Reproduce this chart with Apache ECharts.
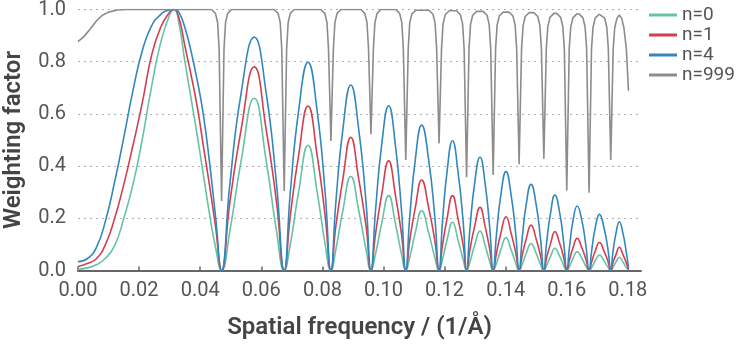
<!DOCTYPE html>
<html>
<head>
<meta charset="utf-8">
<script src="https://cdn.jsdelivr.net/npm/echarts@6/dist/echarts.min.js"></script>
<style>
  html, body { margin: 0; padding: 0; background: #fff; }
  #chart { width: 736px; height: 344px; }
</style>
</head>
<body>
<div id="chart"></div>
<script>
// spatial frequency samples shared by n=0, n=1, n=4 (1/Å)
const freq = [
  0, 0.003, 0.006, 0.009, 0.012, 0.015, 0.018, 0.021, 0.024, 0.027, 0.030, 0.0315,
  0.033, 0.035, 0.037, 0.039, 0.041, 0.043, 0.045, 0.047,
  0.0497, 0.0534, 0.0577, 0.0616, 0.0650, 0.0675,
  0.0695, 0.0722, 0.0753, 0.0783, 0.0809, 0.0828,
  0.0844, 0.0867, 0.0893, 0.0919, 0.0943, 0.0959,
  0.0974, 0.0994, 0.1017, 0.1039, 0.1059, 0.1073,
  0.1086, 0.1104, 0.1125, 0.1148, 0.1168, 0.1182,
  0.1193, 0.1208, 0.1226, 0.1244, 0.1261, 0.1272,
  0.1283, 0.1298, 0.1316, 0.1333, 0.1348, 0.1359,
  0.1370, 0.1384, 0.1401, 0.1418, 0.1433, 0.1444,
  0.1454, 0.1467, 0.1483, 0.1500, 0.1514, 0.1525,
  0.1534, 0.1547, 0.1561, 0.1577, 0.1590, 0.1600,
  0.1609, 0.1620, 0.1634, 0.1650, 0.1663, 0.1673,
  0.1682, 0.1693, 0.1707, 0.1722, 0.1735, 0.1744,
  0.1751, 0.1761, 0.1772, 0.1784, 0.1795, 0.1802
];

const n0 = [
  0.005, 0.01, 0.022, 0.047, 0.095, 0.20, 0.33, 0.50, 0.70, 0.87, 0.98, 1.0,
  0.95, 0.80, 0.66, 0.52, 0.37, 0.22, 0.09, 0,
  0.15, 0.42, 0.66, 0.42, 0.15, 0,
  0.10, 0.30, 0.48, 0.30, 0.10, 0,
  0.08, 0.23, 0.36, 0.23, 0.08, 0,
  0.063, 0.18, 0.287, 0.18, 0.063, 0,
  0.05, 0.144, 0.229, 0.144, 0.05, 0,
  0.041, 0.117, 0.185, 0.117, 0.041, 0,
  0.033, 0.095, 0.151, 0.095, 0.033, 0,
  0.028, 0.079, 0.126, 0.079, 0.028, 0,
  0.023, 0.065, 0.103, 0.065, 0.023, 0,
  0.019, 0.054, 0.085, 0.054, 0.019, 0,
  0.016, 0.045, 0.072, 0.045, 0.016, 0,
  0.013, 0.037, 0.059, 0.037, 0.013, 0,
  0.011, 0.032, 0.051, 0.032, 0.011, 0.002
];

const n1 = [
  0.015, 0.027, 0.045, 0.10, 0.20, 0.33, 0.48, 0.64, 0.82, 0.93, 0.99, 1.0,
  0.97, 0.86, 0.75, 0.63, 0.48, 0.33, 0.17, 0,
  0.26, 0.54, 0.78, 0.54, 0.26, 0,
  0.21, 0.44, 0.63, 0.44, 0.21, 0,
  0.17, 0.35, 0.51, 0.35, 0.17, 0,
  0.14, 0.29, 0.42, 0.29, 0.14, 0,
  0.115, 0.24, 0.347, 0.24, 0.115, 0,
  0.095, 0.198, 0.287, 0.198, 0.095, 0,
  0.08, 0.167, 0.242, 0.167, 0.08, 0,
  0.068, 0.142, 0.206, 0.142, 0.068, 0,
  0.057, 0.12, 0.174, 0.12, 0.057, 0,
  0.049, 0.103, 0.149, 0.103, 0.049, 0,
  0.041, 0.085, 0.123, 0.085, 0.041, 0,
  0.035, 0.074, 0.107, 0.074, 0.035, 0,
  0.029, 0.061, 0.089, 0.061, 0.029, 0.004
];

const n4 = [
  0.034, 0.045, 0.088, 0.19, 0.34, 0.51, 0.69, 0.84, 0.935, 0.98, 0.998, 1.0,
  0.99, 0.93, 0.84, 0.73, 0.60, 0.42, 0.21, 0,
  0.33, 0.68, 0.894, 0.68, 0.33, 0,
  0.30, 0.61, 0.798, 0.61, 0.30, 0,
  0.26, 0.54, 0.711, 0.54, 0.26, 0,
  0.23, 0.48, 0.631, 0.48, 0.23, 0,
  0.206, 0.423, 0.557, 0.423, 0.206, 0,
  0.184, 0.378, 0.497, 0.378, 0.184, 0,
  0.161, 0.33, 0.434, 0.33, 0.161, 0,
  0.14, 0.288, 0.379, 0.288, 0.14, 0,
  0.122, 0.251, 0.33, 0.251, 0.122, 0,
  0.107, 0.22, 0.289, 0.22, 0.107, 0,
  0.091, 0.188, 0.247, 0.188, 0.091, 0,
  0.08, 0.163, 0.215, 0.163, 0.08, 0,
  0.069, 0.142, 0.187, 0.142, 0.069, 0.01
];

// n=999 has its own, denser samples around the narrow dips
const freq999 = [
  0, 0.002, 0.004, 0.006, 0.008, 0.010, 0.013, 0.016,
  0.0437, 0.0450, 0.0457, 0.0462, 0.0470, 0.0478, 0.0483, 0.0490, 0.0503,
  0.0642, 0.0655, 0.0662, 0.0667, 0.0675, 0.0683, 0.0688, 0.0695, 0.0708,
  0.0795, 0.0808, 0.0815, 0.0820, 0.0828, 0.0836, 0.0841, 0.0848, 0.0861,
  0.0926, 0.0939, 0.0946, 0.0951, 0.0959, 0.0967, 0.0972, 0.0979, 0.0992,
  0.1040, 0.1053, 0.1060, 0.1065, 0.1073, 0.1081, 0.1086, 0.1093, 0.1106,
  0.1149, 0.1162, 0.1169, 0.1174, 0.1182, 0.1190, 0.1195, 0.1202, 0.1215,
  0.1239, 0.1252, 0.1259, 0.1264, 0.1272, 0.1280, 0.1285, 0.1292, 0.1305,
  0.1326, 0.1339, 0.1346, 0.1351, 0.1359, 0.1367, 0.1372, 0.1379, 0.1392,
  0.1411, 0.1424, 0.1431, 0.1436, 0.1444, 0.1452, 0.1457, 0.1464, 0.1477,
  0.1492, 0.1505, 0.1512, 0.1517, 0.1525, 0.1533, 0.1538, 0.1545, 0.1558,
  0.1567, 0.1580, 0.1587, 0.1592, 0.1600, 0.1608, 0.1613, 0.1620, 0.1633,
  0.1640, 0.1653, 0.1660, 0.1665, 0.1673, 0.1681, 0.1686, 0.1693, 0.1706,
  0.1711, 0.1724, 0.1731, 0.1736, 0.1744, 0.1752, 0.1757, 0.1764, 0.1772,
  0.1780, 0.1787, 0.1795, 0.1802
];

const n999 = [
  0.877, 0.897, 0.925, 0.956, 0.978, 0.990, 0.998, 1.0,
  1.0, 0.985, 0.95, 0.85, 0.266, 0.85, 0.95, 0.985, 1.0,
  1.0, 0.985, 0.95, 0.85, 0.305, 0.85, 0.95, 0.985, 1.0,
  1.0, 0.985, 0.95, 0.85, 0.496, 0.85, 0.95, 0.985, 1.0,
  1.0, 0.985, 0.95, 0.85, 0.522, 0.85, 0.95, 0.985, 1.0,
  1.0, 0.985, 0.95, 0.85, 0.423, 0.85, 0.95, 0.983, 0.997,
  0.997, 0.982, 0.947, 0.85, 0.487, 0.85, 0.945, 0.98, 0.995,
  0.995, 0.98, 0.945, 0.85, 0.357, 0.85, 0.943, 0.978, 0.993,
  0.993, 0.978, 0.943, 0.85, 0.366, 0.85, 0.94, 0.975, 0.99,
  0.99, 0.975, 0.94, 0.85, 0.407, 0.85, 0.938, 0.973, 0.988,
  0.988, 0.973, 0.938, 0.85, 0.428, 0.85, 0.935, 0.97, 0.985,
  0.985, 0.97, 0.935, 0.85, 0.306, 0.85, 0.933, 0.968, 0.983,
  0.983, 0.968, 0.933, 0.85, 0.298, 0.85, 0.932, 0.967, 0.982,
  0.982, 0.967, 0.932, 0.85, 0.423, 0.85, 0.93, 0.965, 0.979,
  0.965, 0.93, 0.85, 0.689
];

const seriesNames = ['n=0', 'n=1', 'n=4', 'n=999'];
const xTicks = [0, 0.02, 0.04, 0.06, 0.08, 0.10, 0.12, 0.14, 0.16, 0.18];

function zip(xs, ys) {
  return xs.map((x, i) => [x, ys[i]]);
}

function lineSeries(name, color, data, smooth) {
  return {
    name: name,
    type: 'line',
    data: data,
    showSymbol: false,
    symbol: 'none',
    smooth: smooth,
    animation: false,
    lineStyle: { color: color, width: 1.6 },
    itemStyle: { color: color }
  };
}

let chart = echarts.init(document.getElementById('chart'), null, { renderer: 'canvas' });

const axisColor = '#666';
const labelColor = '#555';
const font = 'Roboto, "DejaVu Sans", sans-serif';

let option = {
  backgroundColor: '#fff',
  animation: false,
  textStyle: { fontFamily: font },
  grid: {
    left: 78,
    right: 95,
    top: 9.5,
    bottom: 73.5,
    containLabel: false,
    outerBoundsMode: 'none'
  },
  legend: {
    orient: 'vertical',
    left: 644,
    top: 0,
    itemGap: 0,
    itemWidth: 28,
    itemHeight: 3,
    data: seriesNames.map(n => ({ name: n, icon: 'rect' })),
    textStyle: { fontSize: 19, color: labelColor, lineHeight: 20, fontFamily: font }
  },
  xAxis: {
    type: 'value',
    min: 0,
    max: 0.1843,
    interval: 0.02,
    name: 'Spatial frequency / (1/Å)',
    nameLocation: 'middle',
    nameGap: 45,
    nameTextStyle: { fontSize: 24, fontWeight: 600, color: '#444', fontFamily: font },
    axisLine: { lineStyle: { color: axisColor, width: 2 } },
    axisTick: {
      inside: true,
      length: 4,
      customValues: xTicks,
      lineStyle: { color: axisColor, width: 1.5 }
    },
    axisLabel: {
      customValues: xTicks,
      fontSize: 20,
      color: labelColor,
      margin: 10,
      fontFamily: font,
      formatter: v => v.toFixed(2)
    },
    splitLine: { show: false }
  },
  yAxis: {
    type: 'value',
    min: 0,
    max: 1,
    interval: 0.2,
    name: 'Weighting factor',
    nameLocation: 'middle',
    nameGap: 52,
    nameTextStyle: { fontSize: 24, fontWeight: 600, color: '#444', fontFamily: font },
    axisLine: { show: false },
    axisTick: { show: false },
    axisLabel: {
      fontSize: 20,
      color: labelColor,
      margin: 12,
      fontFamily: font,
      formatter: v => v.toFixed(1)
    },
    splitLine: { lineStyle: { color: '#b0b0b0', width: 1, type: [2, 4] } }
  },
  series: [
    lineSeries('n=0', '#66c2a5', zip(freq, n0), 0.5),
    lineSeries('n=1', '#d53e4f', zip(freq, n1), 0.5),
    lineSeries('n=4', '#3288bd', zip(freq, n4), 0.5),
    lineSeries('n=999', '#8c8c8c', zip(freq999, n999), false)
  ]
};

chart.setOption(option);
</script>
</body>
</html>
